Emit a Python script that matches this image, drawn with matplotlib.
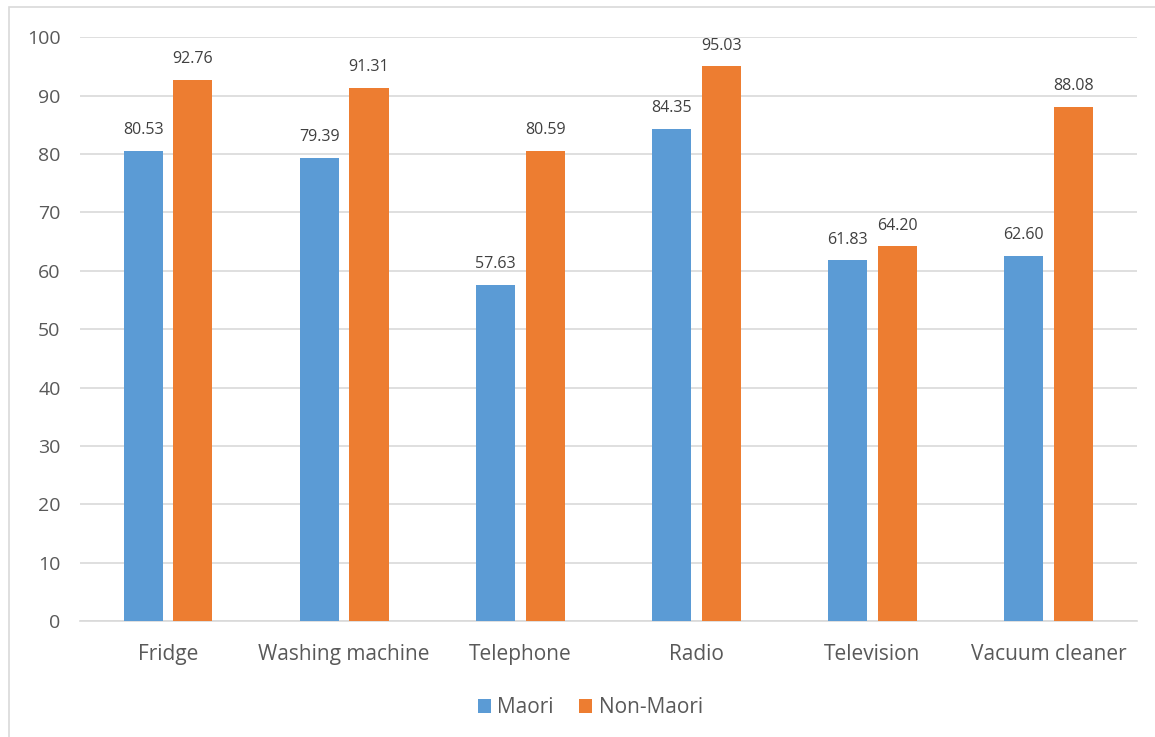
import matplotlib.pyplot as plt
import numpy as np
from matplotlib.patches import Rectangle

plt.rcParams['font.family'] = ['Open Sans', 'DejaVu Sans']

CATEGORIES = ["Fridge", "Washing machine", "Telephone", "Radio",
              "Television", "Vacuum cleaner"]
MAORI = [80.53, 79.39, 57.63, 84.35, 61.83, 62.60]
NON_MAORI = [92.76, 91.31, 80.59, 95.03, 64.20, 88.08]
SERIES_NAMES = ["Maori", "Non-Maori"]

BLUE = "#5B9BD5"
ORANGE = "#ED7D31"
TEXT = "#595959"
GRID = "#D9D9D9"

fig = plt.figure(figsize=(11.55, 7.37), dpi=100)
ax = fig.add_axes([0.0693, 0.157, 0.9147, 0.7925])

x = np.arange(len(CATEGORIES))
w = 0.222
off = 0.141
b1 = ax.bar(x - off, MAORI, w, color=BLUE, label=SERIES_NAMES[0], zorder=3)
b2 = ax.bar(x + off, NON_MAORI, w, color=ORANGE, label=SERIES_NAMES[1], zorder=3)

for bars in (b1, b2):
    ax.bar_label(bars, labels=[f"{v:.2f}" for v in bars.datavalues],
                 padding=9, fontsize=11.5, color="#404040")

ax.set_xlim(-0.5, len(CATEGORIES) - 0.5)
ax.set_ylim(0, 100)
ax.set_yticks(range(0, 101, 10))
ax.set_xticks(x)
ax.set_xticklabels(CATEGORIES)
ax.tick_params(axis="x", length=0, labelsize=15, colors=TEXT, pad=16)
ax.tick_params(axis="y", length=0, labelsize=14, colors=TEXT, pad=14)

ax.grid(axis="y", color=GRID, linewidth=1.2, zorder=0)
for s in ("top", "right", "left"):
    ax.spines[s].set_visible(False)
ax.spines["bottom"].set_color(GRID)
ax.spines["bottom"].set_linewidth(1.2)

fig.legend(loc="center", bbox_to_anchor=(0.511, 0.04), ncol=2, frameon=False,
           fontsize=15, handlelength=0.65, handleheight=0.65,
           handletextpad=0.3, columnspacing=1.2, labelcolor=TEXT)

# thin outer frame around the chart area
fig.add_artist(Rectangle((9 / 1155, -0.05), 1.1, 1 - 7 / 737 + 0.05,
                         transform=fig.transFigure, fill=False,
                         edgecolor=GRID, linewidth=1.2))

fig.savefig("out.png", dpi=100)
